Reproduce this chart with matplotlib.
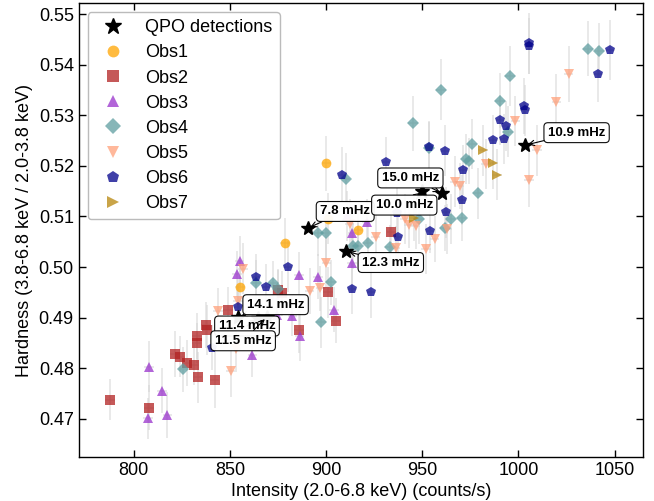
import matplotlib
matplotlib.use("Agg")
import matplotlib.pyplot as plt
from matplotlib.lines import Line2D

plt.rcParams['font.family'] = ['Liberation Sans', 'DejaVu Sans']

# ---------------- data ----------------
obs1_x = [900.1, 900.9, 916.5, 878.6, 855.2]
obs1_y = [0.5205, 0.5096, 0.5073, 0.5048, 0.4961]
obs1_e = [0.0055, 0.0050, 0.0045, 0.0050, 0.0050]

obs2_x = [787.5, 808.0, 821.3, 823.9, 827.4, 831.2, 833.1, 842.0, 832.6, 832.6,
          837.4, 837.8, 849.0, 875.0, 877.0, 885.8, 900.8, 904.9, 933.9]
obs2_y = [0.4738, 0.4722, 0.4828, 0.4823, 0.4810, 0.4807, 0.4782, 0.4777, 0.4864, 0.4850,
          0.4886, 0.4876, 0.4915, 0.4955, 0.4948, 0.4876, 0.4950, 0.4894, 0.5069]
obs2_e = [0.0040, 0.0045, 0.0045, 0.0040, 0.0045, 0.0040, 0.0050, 0.0055, 0.0045, 0.0040,
          0.0045, 0.0050, 0.0045, 0.0040, 0.0045, 0.0045, 0.0050, 0.0045, 0.0045]

obs3_x = [807.4, 808.0, 814.7, 817.4, 853.6, 855.0, 861.6, 874.6, 882.4, 886.0,
          886.2, 895.7, 904.0, 911.0, 913.6, 913.4, 921.2]
obs3_y = [0.4701, 0.4803, 0.4756, 0.4708, 0.4986, 0.5012, 0.4827, 0.4905, 0.4904, 0.4985,
          0.4864, 0.4981, 0.4916, 0.5101, 0.5067, 0.5009, 0.5090]
obs3_e = [0.0040, 0.0050, 0.0045, 0.0045, 0.0045, 0.0050, 0.0045, 0.0045, 0.0040, 0.0045,
          0.0050, 0.0045, 0.0045, 0.0050, 0.0045, 0.0050, 0.0045]

obs4_x = [825.8, 863.7, 872.4, 875.0, 895.7, 900.1, 897.2, 902.5, 910.1, 914.2,
          916.3, 921.6, 933.0, 945.1, 948.2, 953.4, 959.6, 961.6, 964.7, 970.4,
          972.5, 974.5, 975.9, 979.0, 990.5, 994.4, 995.7, 1036.0, 1042.1]
obs4_y = [0.4798, 0.4969, 0.4968, 0.4956, 0.5067, 0.5068, 0.4891, 0.4970, 0.5175, 0.5042,
          0.5042, 0.5048, 0.5039, 0.5284, 0.5095, 0.5236, 0.5351, 0.5077, 0.5095, 0.5097,
          0.5214, 0.5210, 0.5243, 0.5146, 0.5329, 0.5268, 0.5378, 0.5432, 0.5428]
obs4_e = [0.0045, 0.0045, 0.0045, 0.0040, 0.0045, 0.0050, 0.0050, 0.0045, 0.0050, 0.0045,
          0.0045, 0.0045, 0.0045, 0.0055, 0.0050, 0.0050, 0.0060, 0.0045, 0.0050, 0.0045,
          0.0050, 0.0045, 0.0050, 0.0050, 0.0055, 0.0050, 0.0060, 0.0055, 0.0055]

obs5_x = [843.8, 850.3, 853.0, 854.2, 856.6, 891.4, 897.0, 900.1, 912.2, 925.7,
          936.1, 940.8, 943.0, 946.5, 951.9, 956.4, 963.0, 966.8, 969.4, 983.2,
          998.4, 1005.4, 1009.5, 1019.7, 1026.1]
obs5_y = [0.4914, 0.4794, 0.4838, 0.4932, 0.4997, 0.4953, 0.4958, 0.5009, 0.5085, 0.5059,
          0.5037, 0.5095, 0.5083, 0.5081, 0.5036, 0.5056, 0.5075, 0.5169, 0.5160, 0.5204,
          0.5289, 0.5173, 0.5231, 0.5327, 0.5382]
obs5_e = [0.0045, 0.0050, 0.0045, 0.0045, 0.0050, 0.0045, 0.0045, 0.0050, 0.0050, 0.0045,
          0.0045, 0.0050, 0.0045, 0.0045, 0.0050, 0.0045, 0.0050, 0.0050, 0.0045, 0.0050,
          0.0050, 0.0055, 0.0050, 0.0055, 0.0055]

obs6_x = [840.4, 854.4, 863.3, 868.9, 880.0, 908.3, 913.5, 923.5, 930.9, 937.0,
          937.3, 953.5, 954.0, 961.9, 962.4, 970.6, 971.1, 986.7, 990.6, 992.4,
          993.6, 1003.1, 1003.5, 1005.4, 1005.4, 1041.2, 1047.8]
obs6_y = [0.4841, 0.4922, 0.4981, 0.4961, 0.5001, 0.5183, 0.4957, 0.4950, 0.5207, 0.5106,
          0.5060, 0.5238, 0.5072, 0.5230, 0.5108, 0.5133, 0.5192, 0.5251, 0.5291, 0.5253,
          0.5279, 0.5318, 0.5310, 0.5442, 0.5437, 0.5382, 0.5429]
obs6_e = [0.0045, 0.0045, 0.0045, 0.0045, 0.0050, 0.0055, 0.0050, 0.0050, 0.0050, 0.0050,
          0.0045, 0.0050, 0.0045, 0.0050, 0.0050, 0.0050, 0.0050, 0.0050, 0.0050, 0.0050,
          0.0050, 0.0055, 0.0050, 0.0060, 0.0055, 0.0055, 0.0060]

obs7_x = [945.5, 981.4, 986.7, 988.7]
obs7_y = [0.5097, 0.5231, 0.5205, 0.5183]
obs7_e = [0.0045, 0.0050, 0.0050, 0.0050]

qpo_x = [890.4, 910.5, 960.4, 950.0, 1003.5, 854.2, 864.6, 869.1]
qpo_y = [0.5077, 0.5031, 0.5146, 0.5150, 0.5241, 0.4901, 0.4900, 0.4901]
qpo_labels = ['7.8 mHz', '12.3 mHz', '15.0 mHz', '10.0 mHz', '10.9 mHz',
              '14.1 mHz', '11.4 mHz', '11.5 mHz']

x_err = 2.5

series = [
    ('Obs1', obs1_x, obs1_y, obs1_e, 'o', 'orange', 7),
    ('Obs2', obs2_x, obs2_y, obs2_e, 's', 'firebrick', 7),
    ('Obs3', obs3_x, obs3_y, obs3_e, '^', 'darkorchid', 7),
    ('Obs4', obs4_x, obs4_y, obs4_e, 'D', 'cadetblue', 6.5),
    ('Obs5', obs5_x, obs5_y, obs5_e, 'v', 'lightsalmon', 7),
    ('Obs6', obs6_x, obs6_y, obs6_e, 'p', 'darkblue', 7.5),
    ('Obs7', obs7_x, obs7_y, obs7_e, '>', 'darkgoldenrod', 7),
]

# text offsets (points) of annotation boxes relative to each star
label_dx = [27, 32, -23, -13, 37, 27, -8, -17]
label_dy = [12, -8, 11, -10, 9, 9, -6, -17]

# ---------------- figure ----------------
fig = plt.figure(figsize=(6.54, 5.01), dpi=100)
ax = fig.add_axes([0.1203, 0.0872, 0.8633, 0.9068])

for name, xs, ys, es, mk, col, ms in series:
    ax.errorbar(xs, ys, yerr=es, xerr=x_err, fmt='none', ecolor='#d4d4d4',
                elinewidth=1.2, alpha=0.6, zorder=1)
for name, xs, ys, es, mk, col, ms in series:
    ax.plot(xs, ys, linestyle='none', marker=mk, color=col, markersize=ms,
            alpha=0.75, markeredgewidth=0, zorder=2)

ax.plot(qpo_x, qpo_y, linestyle='none', marker='*', color='black',
        markersize=10.5, zorder=3)

for x, y, lab, dx, dy in zip(qpo_x, qpo_y, qpo_labels, label_dx, label_dy):
    ax.annotate(lab, xy=(x, y), xytext=(dx, dy), textcoords='offset points',
                ha='center', va='center', fontsize=9.5, fontweight='bold',
                bbox=dict(boxstyle='round,pad=0.3', fc='white', ec='black',
                          lw=0.8, alpha=0.95),
                arrowprops=dict(arrowstyle='->', color='black', lw=0.8,
                                shrinkA=0, shrinkB=2),
                zorder=5)

ax.set_xlim(771.3, 1064.9)
ax.set_ylim(0.4624, 0.5522)
ax.set_xticks([800, 850, 900, 950, 1000, 1050])
ax.set_yticks([0.47, 0.48, 0.49, 0.50, 0.51, 0.52, 0.53, 0.54, 0.55])
ax.tick_params(direction='in', top=True, right=True, length=5, width=1.0,
               labelsize=13)
for sp in ax.spines.values():
    sp.set_linewidth(1.0)

ax.set_xlabel('Intensity (2.0-6.8 keV) (counts/s)', fontsize=13, labelpad=3)
ax.set_ylabel('Hardness (3.8-6.8 keV / 2.0-3.8 keV)', fontsize=13)

handles = [Line2D([], [], linestyle='none', marker='*', color='black',
                  markersize=12, label='QPO detections')]
for name, xs, ys, es, mk, col, ms in series:
    handles.append(Line2D([], [], linestyle='none', marker=mk, color=col,
                          markersize=ms + 1.5, alpha=0.75, markeredgewidth=0,
                          label=name))
leg = ax.legend(handles=handles, loc='upper left', fontsize=13,
                frameon=True, fancybox=True, labelspacing=0.45)
leg.get_frame().set_edgecolor('#aaaaaa')

fig.savefig('out.png', dpi=100)
